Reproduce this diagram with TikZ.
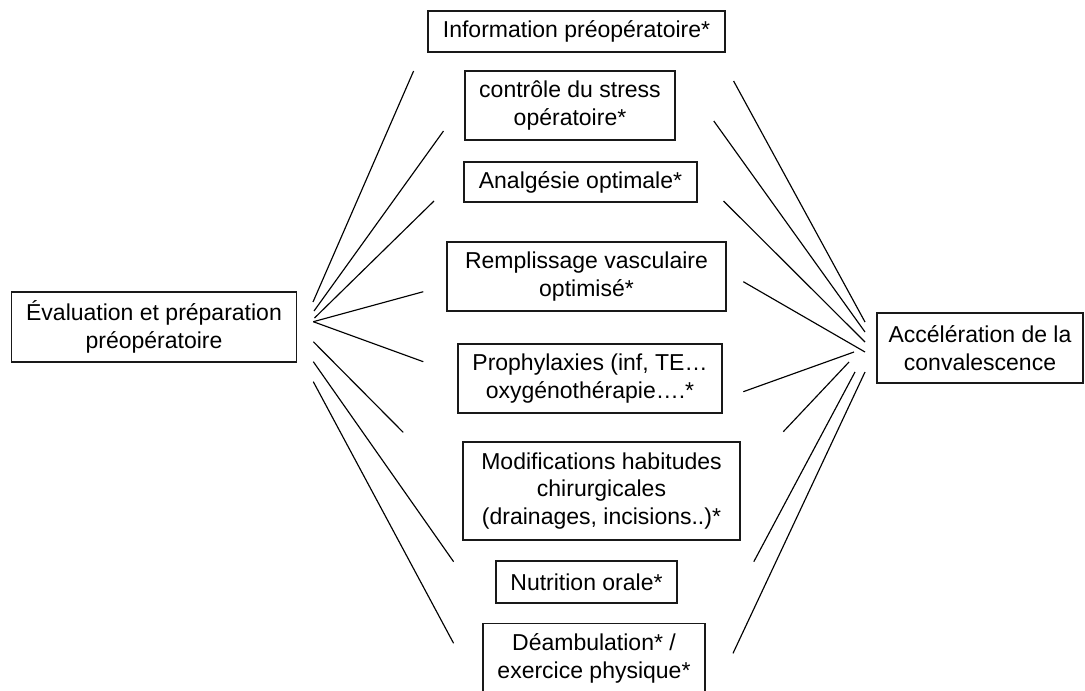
\documentclass[tikz,border=0pt]{standalone}
\usepackage{fontspec}
\setmainfont{Liberation Sans}
\begin{document}
\begin{tikzpicture}[x=1pt,y=-1pt,
  box/.style={draw=black!90,line width=1.2pt,inner sep=0pt,align=center,
    font=\fontsize{23}{27.6}\selectfont},
  link/.style={draw=black,line width=1.15pt}]
\useasboundingbox (0,0) rectangle (1085,691);

% source and outcome
\node[box,minimum width=285pt,minimum height=70pt] (eval) at (154,327)
  {Évaluation et préparation\\préopératoire};
\node[box,minimum width=206pt,minimum height=70pt] (accel) at (980,348)
  {Accélération de la\\convalescence};

% measures
\node[box,minimum width=297pt,minimum height=41pt] (info) at (576.5,31.5)
  {Information préopératoire*};
\node[box,minimum width=210pt,minimum height=69pt] (stress) at (570,105.5)
  {contrôle du stress\\opératoire*};
\node[box,minimum width=233pt,minimum height=40pt] (analg) at (580.5,182)
  {Analgésie optimale*};
\node[box,minimum width=279pt,minimum height=69pt] (rempl) at (586.5,276.5)
  {Remplissage vasculaire\\optimisé*};
\node[box,minimum width=264pt,minimum height=69pt] (proph) at (590,378.5)
  {Prophylaxies (inf, TE…\\oxygénothérapie….*};
\node[box,minimum width=277pt,minimum height=98pt] (modif) at (601.5,491)
  {Modifications habitudes\\chirurgicales\\(drainages, incisions..)*};
\node[box,minimum width=181pt,minimum height=42pt] (nutri) at (586.5,582)
  {Nutrition orale*};
\node[box,minimum width=222pt,minimum height=70pt] (deamb) at (594,658.5)
  {Déambulation* /\\exercice physique*};

% line ends on the left fan
\coordinate (a1) at (313,302);   \coordinate (b1) at (413.6,71);
\coordinate (a2) at (314,311);   \coordinate (b2) at (443.5,131);
\coordinate (a3) at (314.5,318); \coordinate (b3) at (434,201);
\coordinate (a4) at (313.3,321.7); \coordinate (b4) at (423.3,291.7);
\coordinate (b5) at (423.3,361.7);
\coordinate (a6) at (313.3,341.7); \coordinate (b6) at (403.2,432.3);
\coordinate (a7) at (313.3,361.7); \coordinate (b7) at (453.6,561.7);
\coordinate (a8) at (313.3,381.7); \coordinate (b8) at (453.6,643.3);

% line ends on the right fan
\coordinate (c1) at (733.6,81);    \coordinate (d1) at (865,322);
\coordinate (c2) at (713.8,121);   \coordinate (d2) at (865,332);
\coordinate (c3) at (723.5,201);   \coordinate (d3) at (865,342);
\coordinate (c4) at (743.3,281.7); \coordinate (d4) at (865,352);
\coordinate (c5) at (743.3,391.7); \coordinate (d5) at (854,352);
\coordinate (c6) at (783.3,431.7); \coordinate (d6) at (849,362);
\coordinate (c7) at (753.8,561.7); \coordinate (d7) at (855,372);
\coordinate (c8) at (733,653.3);   \coordinate (d8) at (865,372);

\draw[link] (a1) -- (b1);
\draw[link] (a2) -- (b2);
\draw[link] (a3) -- (b3);
\draw[link] (a4) -- (b4);
\draw[link] (a4) -- (b5);
\draw[link] (a6) -- (b6);
\draw[link] (a7) -- (b7);
\draw[link] (a8) -- (b8);

\draw[link] (c1) -- (d1);
\draw[link] (c2) -- (d2);
\draw[link] (c3) -- (d3);
\draw[link] (c4) -- (d4);
\draw[link] (c5) -- (d5);
\draw[link] (c6) -- (d6);
\draw[link] (c7) -- (d7);
\draw[link] (c8) -- (d8);
\end{tikzpicture}
\end{document}
